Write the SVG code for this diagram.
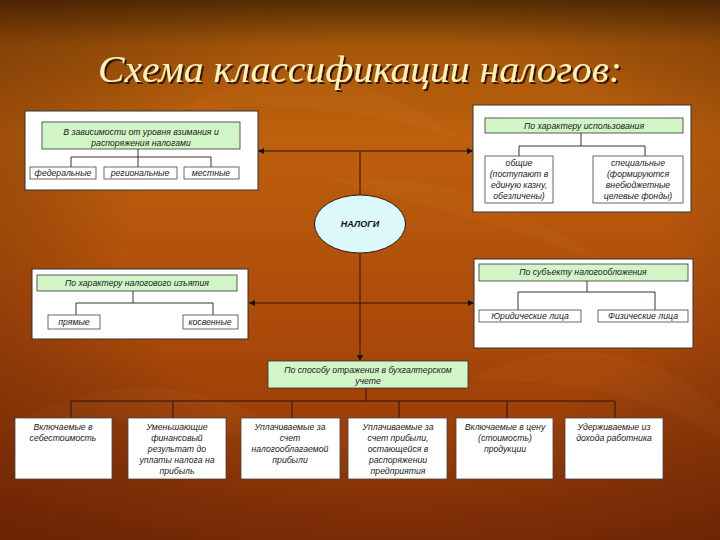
<svg xmlns="http://www.w3.org/2000/svg" width="720" height="540" viewBox="0 0 720 540">
<defs>
<linearGradient id="bg" x1="0" y1="0" x2="0" y2="1">
<stop offset="0" stop-color="#5a3004"/>
<stop offset="0.08" stop-color="#a4560a"/>
<stop offset="0.25" stop-color="#be600d"/>
<stop offset="0.6" stop-color="#ac4a0a"/>
<stop offset="1" stop-color="#8a3207"/>
</linearGradient>
<radialGradient id="vig" cx="0.55" cy="0.45" r="0.75">
<stop offset="0.5" stop-color="#000" stop-opacity="0"/>
<stop offset="1" stop-color="#3a0a00" stop-opacity="0.35"/>
</radialGradient>
<marker id="ah" viewBox="0 0 10 10" refX="10" refY="5" markerWidth="6" markerHeight="6" orient="auto-start-reverse" markerUnits="userSpaceOnUse">
<path d="M0,0 L10,5 L0,10 z" fill="#111"/>
</marker>
<filter id="sh" x="-5%" y="-20%" width="110%" height="140%">
<feDropShadow dx="2" dy="2" stdDeviation="0.6" flood-color="#2a1000" flood-opacity="0.9"/>
</filter>
</defs>
<style>
.outer{fill:#fff;stroke:#333;stroke-width:1}
.grn{fill:#d2f5c8;stroke:#333;stroke-width:0.8}
.sub{fill:#fff;stroke:#444;stroke-width:0.8}
.t{font-family:"Liberation Sans",Arial,sans-serif;font-style:italic;font-size:8.7px;fill:#1a1a1a;text-anchor:middle}
.ln{stroke:#2a1a10;stroke-width:0.9;fill:none}
.cn{stroke:#2a1408;stroke-width:1;fill:none}
</style>
<rect x="0" y="0" width="720" height="540" fill="url(#bg)"/>
<g fill="#e8a050" opacity="0.06">
<path d="M180,110 C260,60 380,70 460,140 C380,110 270,100 180,110 z"/>
<path d="M0,430 C120,360 240,380 330,470 C230,420 110,410 0,430 z"/>
<path d="M470,380 C560,330 660,350 720,410 L720,440 C650,390 560,380 470,380 z"/>
<path d="M330,180 C420,170 520,200 600,260 C510,225 420,205 330,180 z"/>
</g>
<rect x="0" y="0" width="720" height="540" fill="url(#vig)"/>
<text x="360" y="82" font-family="'Liberation Serif','DejaVu Serif',serif" font-style="italic" font-size="37" fill="#fff2b8" text-anchor="middle" textLength="524" lengthAdjust="spacingAndGlyphs" filter="url(#sh)">Схема классификации налогов:</text>
<g id="connectors">
<line class="cn" x1="258" y1="151" x2="473" y2="151" marker-start="url(#ah)" marker-end="url(#ah)"/>
<line class="cn" x1="360" y1="151" x2="360" y2="195"/>
<line class="cn" x1="360" y1="253" x2="360" y2="361" marker-end="url(#ah)"/>
<line class="cn" x1="249" y1="303" x2="474" y2="303" marker-start="url(#ah)" marker-end="url(#ah)"/>
<path class="cn" d="M366,388 V401 M71,401 H615 M71,401 V418 M173,401 V418 M292,401 V418 M399,401 V418 M507,401 V418 M615,401 V418"/>
</g>
<g id="node-level">
<rect class="outer" x="25" y="111" width="233" height="79"/>
<rect class="grn" x="42" y="122" width="198" height="27"/>
<text class="t" x="141" y="135">В зависимости от уровня взимания и</text>
<text class="t" x="141" y="146">распоряжения налогами</text>
<path class="ln" d="M138,149 V157 M71,157 H211 M71,157 V167 M138,157 V167 M211,157 V167"/>
<rect class="sub" x="30" y="167" width="66" height="12"/>
<text class="t" x="63" y="176">федеральные</text>
<rect class="sub" x="104" y="167" width="73" height="12"/>
<text class="t" x="140" y="176">региональные</text>
<rect class="sub" x="184" y="167" width="55" height="12"/>
<text class="t" x="211" y="176">местные</text>
</g>
<g id="node-use">
<rect class="outer" x="473" y="105" width="218" height="107"/>
<rect class="grn" x="485" y="118" width="198" height="15"/>
<text class="t" x="584" y="129">По характеру использования</text>
<path class="ln" d="M581,133 V146 M519,146 H645 M519,146 V156 M645,146 V156"/>
<rect class="sub" x="485" y="156" width="68" height="47"/>
<text class="t" x="519" y="166">общие</text>
<text class="t" x="519" y="177">(поступают в</text>
<text class="t" x="519" y="188">единую казну,</text>
<text class="t" x="519" y="199">обезличены)</text>
<rect class="sub" x="593" y="156" width="90" height="47"/>
<text class="t" x="638" y="166">специальные</text>
<text class="t" x="638" y="177">(формируются</text>
<text class="t" x="638" y="188">внебюджетные</text>
<text class="t" x="638" y="199">целевые фонды)</text>
</g>
<g id="node-taxes">
<ellipse cx="360" cy="224" rx="45.5" ry="29" fill="#ddf8fb" stroke="#222" stroke-width="1"/>
<text x="360" y="227" font-family="'Liberation Sans',Arial,sans-serif" font-style="italic" font-weight="bold" font-size="9" fill="#111" text-anchor="middle">НАЛОГИ</text>
</g>
<g id="node-withdrawal">
<rect class="outer" x="32" y="269" width="216" height="70"/>
<rect class="grn" x="37" y="275" width="200" height="16"/>
<text class="t" x="137" y="286">По характеру налогового изъятия</text>
<path class="ln" d="M133,291 V303 M76,303 H213 M76,303 V315 M213,303 V315"/>
<rect class="sub" x="48" y="315" width="52" height="14"/>
<text class="t" x="74" y="325">прямые</text>
<rect class="sub" x="183" y="315" width="55" height="14"/>
<text class="t" x="210" y="325">косвенные</text>
</g>
<g id="node-subject">
<rect class="outer" x="474" y="259" width="219" height="89"/>
<rect class="grn" x="479" y="264" width="209" height="17"/>
<text class="t" x="583" y="275">По субъекту налогообложения</text>
<path class="ln" d="M587,281 V292 M518,292 H655 M518,292 V310 M655,292 V310"/>
<rect class="sub" x="479" y="310" width="102" height="12"/>
<text class="t" x="530" y="319">Юридические лица</text>
<rect class="sub" x="598" y="310" width="90" height="12"/>
<text class="t" x="643" y="319">Физические лица</text>
</g>
<g id="node-accounting">
<rect class="grn" x="268" y="361" width="200" height="27"/>
<text class="t" x="368" y="373">По способу отражения в бухгалтерском</text>
<text class="t" x="368" y="384">учете</text>
</g>
<g id="node-b1">
<rect class="sub" x="15" y="418" width="97" height="61"/>
<text class="t" x="63" y="430">Включаемые в</text>
<text class="t" x="63" y="441">себестоимость</text>
</g>
<g id="node-b2">
<rect class="sub" x="128" y="418" width="98" height="61"/>
<text class="t" x="177" y="430">Уменьшающие</text>
<text class="t" x="177" y="441">финансовый</text>
<text class="t" x="177" y="452">результат до</text>
<text class="t" x="177" y="463">уплаты налога на</text>
<text class="t" x="177" y="474">прибыль</text>
</g>
<g id="node-b3">
<rect class="sub" x="241" y="418" width="99" height="61"/>
<text class="t" x="290" y="430">Уплачиваемые за</text>
<text class="t" x="290" y="441">счет</text>
<text class="t" x="290" y="452">налогооблагаемой</text>
<text class="t" x="290" y="463">прибыли</text>
</g>
<g id="node-b4">
<rect class="sub" x="348" y="418" width="99" height="61"/>
<text class="t" x="398" y="430">Уплачиваемые за</text>
<text class="t" x="398" y="441">счет прибыли,</text>
<text class="t" x="398" y="452">остающейся в</text>
<text class="t" x="398" y="463">распоряжении</text>
<text class="t" x="398" y="474">предприятия</text>
</g>
<g id="node-b5">
<rect class="sub" x="456" y="418" width="97" height="61"/>
<text class="t" x="505" y="430">Включаемые в цену</text>
<text class="t" x="505" y="441">(стоимость)</text>
<text class="t" x="505" y="452">продукции</text>
</g>
<g id="node-b6">
<rect class="sub" x="565" y="418" width="98" height="61"/>
<text class="t" x="614" y="430">Удерживаемые из</text>
<text class="t" x="614" y="441">дохода работника</text>
</g>
</svg>
